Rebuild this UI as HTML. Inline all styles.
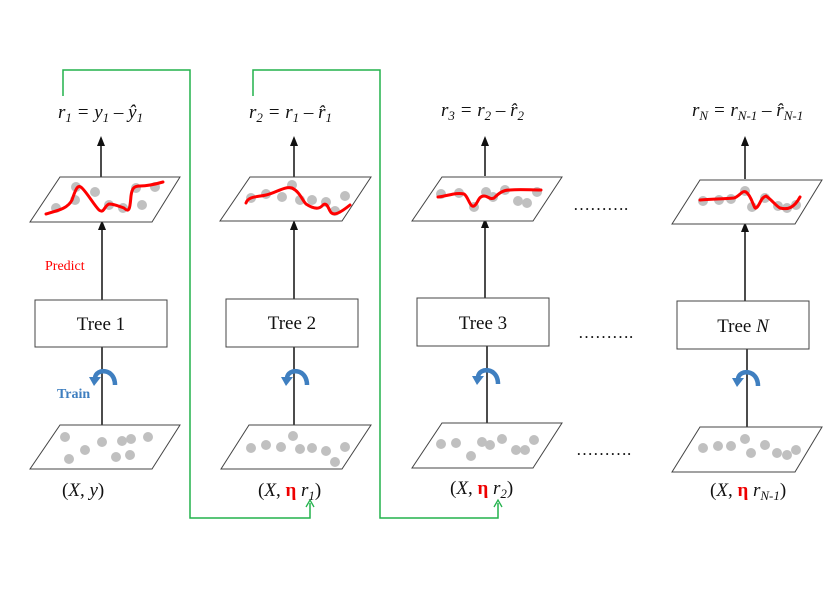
<!DOCTYPE html>
<html><head><meta charset="utf-8"><style>
html,body{margin:0;padding:0;background:#fff;}
svg{display:block;}
text{font-family:"Liberation Serif",serif;}
</style></head><body>
<svg width="838" height="603" viewBox="0 0 838 603" xmlns="http://www.w3.org/2000/svg">
<defs>
<g id="curl">
<path d="M11,10 C11,-7 -8,-7 -9,3" fill="none" stroke="#3f7fc0" stroke-width="4.5"/>
<path d="M-15,2 L-3,2 L-10,11 Z" fill="#3f7fc0"/>
</g>
</defs>

<g fill="none" stroke="#22b24c" stroke-width="1.5">
<polyline points="63,96 63,70 190,70 190,518 310,518 310,503"/>
<polyline points="253,96 253,70 380,70 380,518 498,518 498,503"/>
</g>
<path d="M306,507 L310,500 L314,507" fill="none" stroke="#22b24c" stroke-width="1.3"/>
<path d="M494,507 L498,500 L502,507" fill="none" stroke="#22b24c" stroke-width="1.3"/>

<g font-size="19" font-style="italic" fill="#111">
<text x="58" y="118">r<tspan font-size="13" dy="4">1</tspan><tspan dy="-4"> = y</tspan><tspan font-size="13" dy="4">1</tspan><tspan dy="-4"> – ŷ</tspan><tspan font-size="13" dy="4">1</tspan></text>
<text x="249" y="118">r<tspan font-size="13" dy="4">2</tspan><tspan dy="-4"> = r</tspan><tspan font-size="13" dy="4">1</tspan><tspan dy="-4"> – r̂</tspan><tspan font-size="13" dy="4">1</tspan></text>
<text x="441" y="116">r<tspan font-size="13" dy="4">3</tspan><tspan dy="-4"> = r</tspan><tspan font-size="13" dy="4">2</tspan><tspan dy="-4"> – r̂</tspan><tspan font-size="13" dy="4">2</tspan></text>
<text x="692" y="116">r<tspan font-size="13" dy="4">N</tspan><tspan dy="-4"> = r</tspan><tspan font-size="13" dy="4">N-1</tspan><tspan dy="-4"> – r̂</tspan><tspan font-size="13" dy="4">N-1</tspan></text>
</g>

<g stroke="#111" stroke-width="1.5">
<line x1="101" y1="177" x2="101" y2="142"/><line x1="102" y1="300" x2="102" y2="226"/><line x1="102" y1="425" x2="102" y2="347"/>
<line x1="294" y1="177" x2="294" y2="142"/><line x1="294" y1="299" x2="294" y2="226"/><line x1="294" y1="425" x2="294" y2="347"/>
<line x1="485" y1="176" x2="485" y2="142"/><line x1="485" y1="298" x2="485" y2="224"/><line x1="487" y1="423" x2="487" y2="346"/>
<line x1="745" y1="179" x2="745" y2="142"/><line x1="745" y1="301" x2="745" y2="228"/><line x1="747" y1="427" x2="747" y2="349"/>
</g>
<g fill="#111">
<path d="M97,146 L101,136 L105,146Z"/><path d="M98,230 L102,220 L106,230Z"/>
<path d="M290,146 L294,136 L298,146Z"/><path d="M290,230 L294,220 L298,230Z"/>
<path d="M481,146 L485,136 L489,146Z"/><path d="M481,228 L485,218 L489,228Z"/>
<path d="M741,146 L745,136 L749,146Z"/><path d="M741,232 L745,222 L749,232Z"/>
</g>

<g fill="#fff" stroke="#444" stroke-width="1">
<polygon points="60,177 180,177 152,222 30,222"/>
<polygon points="250,177 371,177 342,221 220,221"/>
<polygon points="442,177 562,177 533,221 412,221"/>
<polygon points="700,180 822,180 795,224 672,224"/>
<polygon points="60,425 180,425 152,469 30,469"/>
<polygon points="249,425 371,425 342,469 221,469"/>
<polygon points="442,423 562,423 533,468 412,468"/>
<polygon points="700,427 822,427 795,472 672,472"/>
</g>
<g fill="#c0c0c0">
<circle cx="56" cy="208" r="5"/><circle cx="75" cy="200" r="5"/><circle cx="76" cy="187" r="5"/><circle cx="95" cy="192" r="5"/><circle cx="109" cy="205" r="5"/><circle cx="123" cy="208" r="5"/><circle cx="142" cy="205" r="5"/><circle cx="136" cy="188" r="5"/><circle cx="155" cy="187" r="5"/>
<circle cx="251" cy="198" r="5"/><circle cx="266" cy="194" r="5"/><circle cx="282" cy="197" r="5"/><circle cx="292" cy="185" r="5"/><circle cx="300" cy="200" r="5"/><circle cx="312" cy="200" r="5"/><circle cx="326" cy="202" r="5"/><circle cx="335" cy="211" r="5"/><circle cx="345" cy="196" r="5"/>
<circle cx="441" cy="194" r="5"/><circle cx="459" cy="193" r="5"/><circle cx="474" cy="207" r="5"/><circle cx="486" cy="192" r="5"/><circle cx="493" cy="197" r="5"/><circle cx="505" cy="190" r="5"/><circle cx="518" cy="201" r="5"/><circle cx="527" cy="203" r="5"/><circle cx="537" cy="192" r="5"/>
<circle cx="703" cy="201" r="5"/><circle cx="719" cy="200" r="5"/><circle cx="731" cy="199" r="5"/><circle cx="745" cy="191" r="5"/><circle cx="752" cy="207" r="5"/><circle cx="765" cy="198" r="5"/><circle cx="778" cy="206" r="5"/><circle cx="787" cy="208" r="5"/><circle cx="796" cy="205" r="5"/>
<circle cx="69" cy="459" r="5"/><circle cx="65" cy="437" r="5"/><circle cx="85" cy="450" r="5"/><circle cx="102" cy="442" r="5"/><circle cx="116" cy="457" r="5"/><circle cx="122" cy="441" r="5"/><circle cx="130" cy="455" r="5"/><circle cx="131" cy="439" r="5"/><circle cx="148" cy="437" r="5"/>
<circle cx="251" cy="448" r="5"/><circle cx="266" cy="445" r="5"/><circle cx="281" cy="447" r="5"/><circle cx="293" cy="436" r="5"/><circle cx="300" cy="449" r="5"/><circle cx="312" cy="448" r="5"/><circle cx="326" cy="451" r="5"/><circle cx="335" cy="462" r="5"/><circle cx="345" cy="447" r="5"/>
<circle cx="441" cy="444" r="5"/><circle cx="456" cy="443" r="5"/><circle cx="471" cy="456" r="5"/><circle cx="482" cy="442" r="5"/><circle cx="490" cy="445" r="5"/><circle cx="502" cy="439" r="5"/><circle cx="516" cy="450" r="5"/><circle cx="525" cy="450" r="5"/><circle cx="534" cy="440" r="5"/>
<circle cx="703" cy="448" r="5"/><circle cx="718" cy="446" r="5"/><circle cx="731" cy="446" r="5"/><circle cx="745" cy="439" r="5"/><circle cx="751" cy="453" r="5"/><circle cx="765" cy="445" r="5"/><circle cx="777" cy="453" r="5"/><circle cx="787" cy="455" r="5"/><circle cx="796" cy="450" r="5"/>
</g>
<g fill="none" stroke="#f00" stroke-width="3" stroke-linecap="round">
<path d="M46,214 C60,210 68,208 72,200 C76,188 78,184 82,188 C88,194 94,205 99,210 C104,214 104,206 109,204 C114,204 118,206 124,208 C130,214 130,206 131,196 C132,188 134,186 140,186 C148,186 156,184 163,182"/>
<path d="M246,203 C248,196 258,197 266,195 C276,193 284,186 292,188 C300,192 302,200 306,204 C312,208 318,210 322,206 C326,201 328,207 330,211 C333,217 340,213 350,205"/>
<path d="M438,197 C448,196 456,192 464,194 C468,196 470,208 474,206 C478,204 478,196 484,196 C488,196 490,200 494,198 C500,192 504,190 510,190 C520,189 530,190 541,190"/>
<path d="M700,200 C712,199 724,199 734,198 C740,196 742,190 746,192 C752,196 754,210 756,208 C760,206 760,198 766,196 C772,200 776,206 780,208 C788,210 794,208 800,197"/>
</g>

<g fill="#fff" stroke="#444" stroke-width="1">
<rect x="35" y="300" width="132" height="47"/>
<rect x="226" y="299" width="132" height="48"/>
<rect x="417" y="298" width="132" height="48"/>
<rect x="677" y="301" width="132" height="48"/>
</g>
<g font-size="19" fill="#111" text-anchor="middle">
<text x="101" y="330">Tree 1</text>
<text x="292" y="329">Tree 2</text>
<text x="483" y="329">Tree 3</text>
<text x="743" y="332">Tree <tspan font-style="italic">N</tspan></text>
</g>

<use href="#curl" x="104" y="375"/>
<use href="#curl" x="296" y="375"/>
<use href="#curl" x="487" y="374"/>
<use href="#curl" x="747" y="376"/>

<text x="45" y="270" font-size="14" fill="#f00">Predict</text>
<text x="57" y="398" font-size="14" fill="#3f7fc0" font-weight="bold">Train</text>

<g font-size="17" fill="#111">
<text x="573" y="210">……….</text>
<text x="578" y="338">……….</text>
<text x="576" y="455">……….</text>
</g>

<g font-size="19" fill="#111">
<text x="62" y="496">(<tspan font-style="italic">X</tspan>, <tspan font-style="italic">y</tspan>)</text>
<text x="258" y="496">(<tspan font-style="italic">X</tspan>, <tspan fill="#e00" font-weight="bold">η</tspan> <tspan font-style="italic">r</tspan><tspan font-size="13" font-style="italic" dy="4">1</tspan><tspan dy="-4">)</tspan></text>
<text x="450" y="494">(<tspan font-style="italic">X</tspan>, <tspan fill="#e00" font-weight="bold">η</tspan> <tspan font-style="italic">r</tspan><tspan font-size="13" font-style="italic" dy="4">2</tspan><tspan dy="-4">)</tspan></text>
<text x="710" y="496">(<tspan font-style="italic">X</tspan>, <tspan fill="#e00" font-weight="bold">η</tspan> <tspan font-style="italic">r</tspan><tspan font-size="13" font-style="italic" dy="4">N-1</tspan><tspan dy="-4">)</tspan></text>
</g>
</svg>
</body></html>
